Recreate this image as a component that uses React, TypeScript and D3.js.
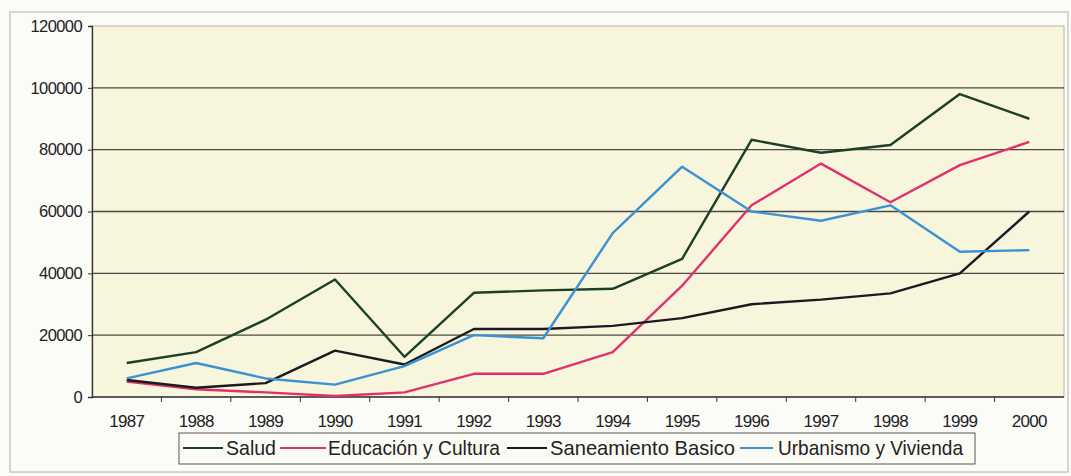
import * as d3 from "d3";
import { useEffect, useRef } from "react";

const years = ["1987", "1988", "1989", "1990", "1991", "1992", "1993", "1994", "1995", "1996", "1997", "1998", "1999", "2000"];
const salud = [11000, 14500, 25000, 38000, 13000, 33700, 34500, 35000, 44700, 83200, 79000, 81500, 98000, 90000];
const educacion = [5000, 2500, 1500, 300, 1500, 7500, 7500, 14500, 36000, 62000, 75500, 63000, 75000, 82500];
const saneamiento = [5500, 3000, 4500, 15000, 10500, 22000, 22000, 23000, 25500, 30000, 31500, 33500, 40000, 60000];
const urbanismo = [6000, 11000, 6000, 4000, 10000, 20000, 19000, 53000, 74500, 60000, 57000, 62000, 47000, 47500];
const yTicks = [0, 20000, 40000, 60000, 80000, 100000, 120000];

const series = [
  { name: "Salud", values: salud, color: "#1d3f26" },
  { name: "Educación y Cultura", values: educacion, color: "#e2306e" },
  { name: "Saneamiento Basico", values: saneamiento, color: "#1a1a22" },
  { name: "Urbanismo y Vivienda", values: urbanismo, color: "#3a92d2" },
];

const App = () => {
  const ref = useRef(null);

  useEffect(() => {
    const svg = d3.select(ref.current);
    svg.selectAll("*").remove();

    const width = 1071;
    const height = 476;
    const left = 92, right = 1064, top = 26, bottom = 397;

    svg.append("rect").attr("width", width).attr("height", height).attr("fill", "#fbfbf8");
    // marco exterior
    svg.append("rect")
      .attr("x", 10).attr("y", 12).attr("width", 1058).attr("height", 460)
      .attr("fill", "none").attr("stroke", "#c8c8c4").attr("stroke-width", 1.5);

    const x = d3.scaleBand().domain(years).range([left, right]);
    const y = d3.scaleLinear().domain([0, 120000]).range([bottom, top]);

    // área del gráfico
    svg.append("rect")
      .attr("x", left).attr("y", top)
      .attr("width", right - left).attr("height", bottom - top)
      .attr("fill", "#f7f5dc").attr("stroke", "#b8b8a8").attr("stroke-width", 1);

    // líneas de cuadrícula
    svg.append("g")
      .selectAll("line")
      .data(yTicks.filter(t => t > 0 && t < 120000))
      .enter()
      .append("line")
      .attr("x1", left).attr("x2", right)
      .attr("y1", d => y(d)).attr("y2", d => y(d))
      .attr("stroke", "#4a4a44").attr("stroke-width", 1.3);

    const font = "'Liberation Sans', Arial, sans-serif";

    // eje Y
    const yAxis = svg.append("g")
      .attr("transform", `translate(${left},0)`)
      .call(d3.axisLeft(y).tickValues(yTicks).tickSize(4).tickFormat(d3.format("d")));
    yAxis.select(".domain").attr("stroke", "#333").attr("stroke-width", 1.3);
    yAxis.selectAll(".tick line").attr("stroke", "#333");
    yAxis.selectAll("text")
      .attr("font-family", font).attr("font-size", 16.5).attr("fill", "#222")
      .attr("letter-spacing", -0.6)
      .attr("x", -10);

    // eje X
    const xAxis = svg.append("g").attr("transform", `translate(0,${bottom})`);
    xAxis.append("line")
      .attr("x1", left).attr("x2", right).attr("y1", 0).attr("y2", 0)
      .attr("stroke", "#333").attr("stroke-width", 1.3);
    xAxis.selectAll(".xt")
      .data(years.slice(1))
      .enter()
      .append("line")
      .attr("x1", d => x(d)).attr("x2", d => x(d))
      .attr("y1", 0).attr("y2", 5)
      .attr("stroke", "#333");
    xAxis.selectAll("text")
      .data(years)
      .enter()
      .append("text")
      .attr("x", d => x(d) + x.bandwidth() / 2)
      .attr("y", 30)
      .attr("text-anchor", "middle")
      .attr("font-family", font).attr("font-size", 17).attr("fill", "#222")
      .attr("letter-spacing", -0.7)
      .text(d => d);

    // series
    const line = d3.line()
      .x((d, i) => x(years[i]) + x.bandwidth() / 2)
      .y(d => y(d));

    series.forEach(s => {
      svg.append("path")
        .datum(s.values)
        .attr("d", line)
        .attr("fill", "none")
        .attr("stroke", s.color)
        .attr("stroke-width", 2.4)
        .attr("stroke-linejoin", "round");
    });

    // leyenda
    const lg = svg.append("g");
    lg.append("rect")
      .attr("x", 179).attr("y", 433).attr("width", 796).attr("height", 31)
      .attr("fill", "#fbfbf6").attr("stroke", "#555").attr("stroke-width", 1);
    const legendLine = [[183, 223], [280, 326], [507, 547], [740, 773]];
    const legendText = [226, 328, 550, 778];
    const legendWidth = [50, 172, 185, 185];
    series.forEach((s, i) => {
      lg.append("line")
        .attr("x1", legendLine[i][0]).attr("x2", legendLine[i][1])
        .attr("y1", 448).attr("y2", 448)
        .attr("stroke", s.color).attr("stroke-width", 2);
      lg.append("text")
        .attr("x", legendText[i]).attr("y", 455)
        .attr("font-family", font).attr("font-size", 21).attr("fill", "#222")
        .attr("textLength", legendWidth[i]).attr("lengthAdjust", "spacingAndGlyphs")
        .text(s.name);
    });
  }, []);

  return (
    <svg ref={ref} width="1071" height="476" style={{ position: "absolute", left: 0, top: 0 }}></svg>
  );
};

export default App;
